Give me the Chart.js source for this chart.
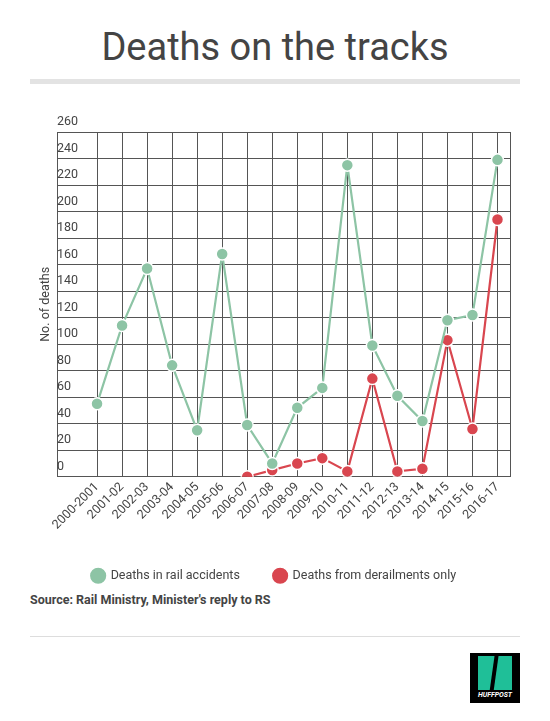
<!DOCTYPE html>
<html><head><meta charset="utf-8">
<script src="https://cdn.jsdelivr.net/npm/chart.js@4.4.0/dist/chart.umd.min.js"></script>
<style>
body{margin:0;width:550px;height:721px;background:#fff;font-family:Roboto,sans-serif;position:relative;overflow:hidden}
#title{position:absolute;top:25px;left:0;width:550px;text-align:center;font-size:38px;color:#444}
#bar{position:absolute;top:79px;left:30px;width:490px;height:5px;background:#e3e3e3}
#wrap{position:absolute;top:100px;left:0;width:550px;height:492px}
#src{position:absolute;top:592px;left:30px;font-size:12.5px;font-weight:bold;color:#444}
#rule{position:absolute;top:636px;left:30px;width:490px;height:1px;background:#ddd}
#logo{position:absolute;top:653px;left:470px;width:50px;height:50px;background:#000}
#logo .a{position:absolute;left:8px;top:3px;width:34px;height:34px;background:#1fbf98}
#logo .s{position:absolute;left:22px;top:1px;width:4px;height:40px;background:#000;transform:skewX(-8deg)}
#logo .t{position:absolute;left:0;top:38px;width:50px;text-align:center;color:#fff;font-size:7px;font-weight:bold;font-style:italic}
</style></head><body>
<div id="title">Deaths on the tracks</div>
<div id="bar"></div>
<div id="wrap"><canvas id="c"></canvas></div>
<div id="src">Source: Rail Ministry, Minister's reply to RS</div>
<div id="rule"></div>
<div id="logo"><div class="a"></div><div class="s"></div><div class="t">HUFFPOST</div></div>
<script>
const categories=["2000-2001","2001-02","2002-03","2003-04","2004-05","2005-06","2006-07","2007-08","2008-09","2009-10","2010-11","2011-12","2012-13","2013-14","2014-15","2015-16","2016-17"];
const railAccidents=[55,114,157,84,35,168,39,10,52,67,235,99,61,42,118,122,239];
const derailments=[null,null,null,null,null,null,0,5,10,14,4,74,4,6,103,36,194];
const yTicks=[0,20,40,60,80,100,120,140,160,180,200,220,240,260];
const green='#8dc4a5', red='#d9464f';
const toPts=a=>a.map((v,i)=>v===null?null:{x:i,y:v}).filter(p=>p);
new Chart(document.getElementById('c'),{
 type:'line',
 data:{datasets:[
  {label:'Deaths in rail accidents',data:toPts(railAccidents),borderColor:green,backgroundColor:green,pointBackgroundColor:green,pointBorderColor:'#fff',pointBorderWidth:1.5,pointRadius:6,borderWidth:2.2,tension:0},
  {label:'Deaths from derailments only',data:toPts(derailments),borderColor:red,backgroundColor:red,pointBackgroundColor:red,pointBorderColor:'#fff',pointBorderWidth:1.5,pointRadius:6,borderWidth:2.2,tension:0}
 ]},
 options:{responsive:true,maintainAspectRatio:false,animation:false,
  layout:{padding:{left:38,right:40,top:32,bottom:0}},
  plugins:{legend:{position:'bottom',labels:{usePointStyle:true,pointStyle:'circle',boxWidth:16,boxHeight:16,padding:34,color:'#444',font:{family:'Roboto',size:12.5}}},tooltip:{enabled:false}},
  scales:{
   x:{type:'linear',min:-1.6,max:16.5,
    afterBuildTicks:s=>{s.ticks=[-1.6].concat(categories.map((c,i)=>({value:i}))).map(t=>typeof t==='number'?{value:t}:t).concat([{value:16.5}]);},
    ticks:{autoSkip:false,maxRotation:45,minRotation:45,color:'#444',font:{family:'Roboto',size:12.5},callback:v=>Number.isInteger(v)?categories[v]:''},
    grid:{color:'#555',lineWidth:1,drawTicks:false},border:{color:'#555'}},
   y:{min:0,max:260,
    afterBuildTicks:s=>{s.ticks=yTicks.map(v=>({value:v}));},
    ticks:{mirror:true,labelOffset:-10,padding:0,color:'#444',font:{family:'Roboto',size:12.5}},
    grid:{color:'#555',lineWidth:1,drawTicks:false},border:{color:'#555'},
    title:{display:true,text:'No. of deaths',color:'#444',font:{family:'Roboto',size:12.5},padding:{top:0,bottom:4}}}
  }}
});
</script></body></html>
